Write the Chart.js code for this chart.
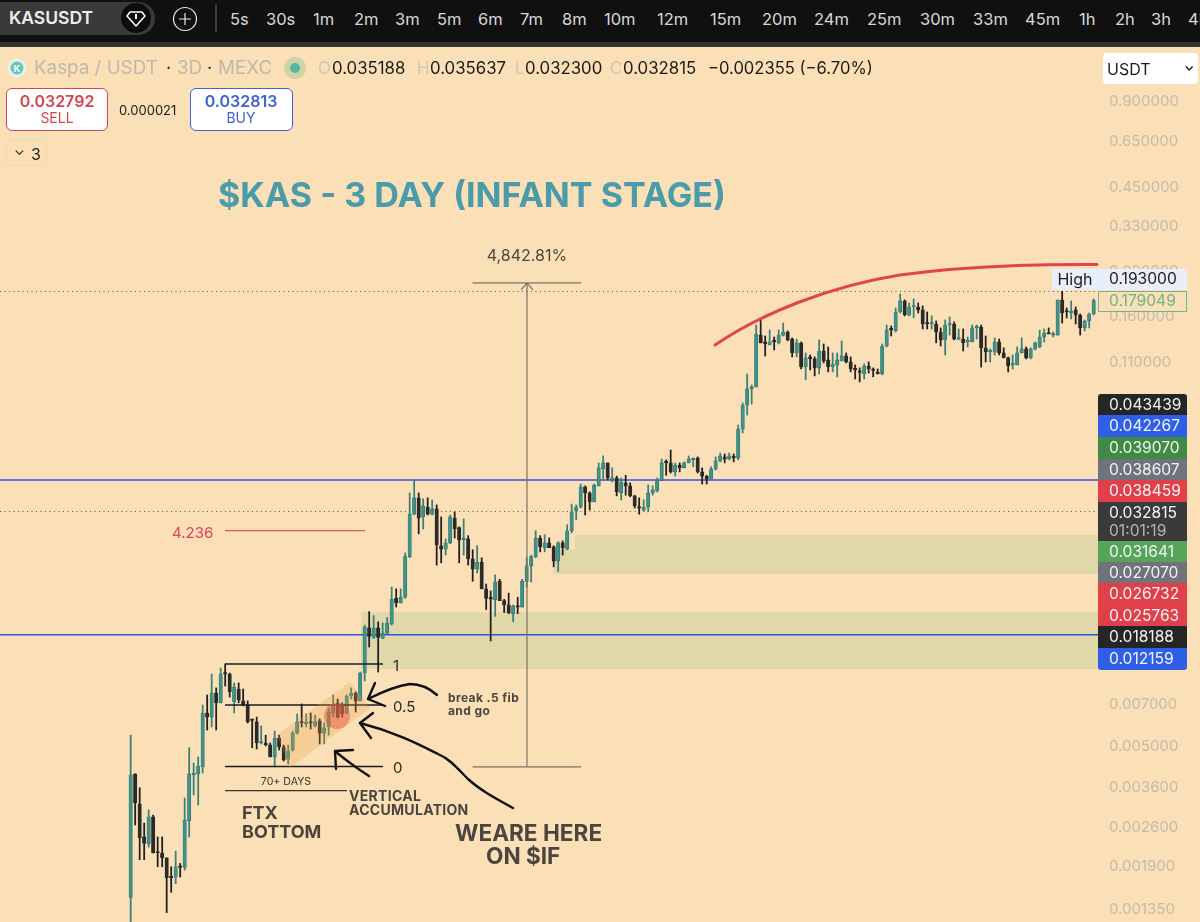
<!DOCTYPE html>
<html><head><meta charset="utf-8"><title>KASUSDT</title>
<script src="https://cdn.jsdelivr.net/npm/chart.js@4"></script>
<style>
html,body{margin:0;padding:0;background:#fbdfb6;overflow:hidden}
#stage{position:relative;width:1200px;height:922px;overflow:hidden;background:#fbdfb6;font-family:Inter,"Noto Sans",sans-serif}
canvas{position:absolute;left:0;top:0}
#bar{position:absolute;left:0;top:0;width:1200px;height:42px;background:#101010;border-bottom:5px solid #333}
svg{position:absolute;left:0;top:0}
.t{position:absolute;white-space:pre;line-height:1}
.box{position:absolute;box-sizing:border-box}
</style></head><body>
<div id="stage">
<canvas id="c" width="1200" height="922"></canvas>
<div id="bar"></div>
<svg id="ink" width="1200" height="922" viewBox="0 0 1200 922" fill="none">
 <polygon points="277,735 350,682 370,708 290,768" fill="rgb(240,160,60)" fill-opacity=".26"/>
 <circle cx="337" cy="716" r="13" fill="rgb(232,90,70)" fill-opacity=".5"/>
 <path d="M715,345 C760,314 830,286 900,275 C960,267 1030,264 1097,264.5" stroke="#df4550" stroke-width="3" stroke-linecap="round"/>
 <g stroke="#111" stroke-width="2.4" stroke-linecap="round" stroke-linejoin="round">
  <path d="M437,695 C428,687 420,684 410,684 C395,686 382,692 368,699"/>
  <path d="M375,683 L368,699 L385,706"/>
  <path d="M513,808 C495,798 480,790 468,779 C458,769 450,759 438,754 C420,745 395,732 360,723"/>
  <path d="M373,713 L360,723 L371,738"/>
  <path d="M369,776 C358,769 347,761 336,752"/>
  <path d="M353,750 L335,751 L336,769"/>
 </g>
 <!-- toolbar icons -->
 <rect x="-20" y="2" width="175" height="33" rx="16.5" fill="#3a3a3a"/>
 <circle cx="136" cy="18" r="15" fill="#0c0c0c"/>
 <path d="M130,12 H142 L145,16 L136,26 L127,16 Z" stroke="#fff" stroke-width="1.5" stroke-linejoin="round"/>
 <path d="M136,14 V19" stroke="#fff" stroke-width="2"/>
 <circle cx="185" cy="19" r="11.5" stroke="#e8e8e8" stroke-width="1.2"/>
 <path d="M179,19 H191 M185,13 V25" stroke="#e8e8e8" stroke-width="1.2"/>
 <path d="M216,4 V32" stroke="#555" stroke-width="1.3"/>
 <circle cx="17" cy="68" r="9.5" fill="#e6f2ee"/><circle cx="17" cy="68" r="6.5" fill="#6cc4b8"/>
 <circle cx="295" cy="68" r="11" fill="#cfd3a8"/><circle cx="295" cy="68" r="5" fill="#56b8a0"/>
</svg>
<div id="ui"></div>
</div>
<script>
/* ---- chart values ---- */
const opens=[.00147,.00397,.00312,.00239,.00226,.00281,.00212,.00210,.00202,.00173,
.00173,.00188,.00187,.00272,.00394,.00397,.00420,.00648,.00627,.00761,
.00703,.00894,.00887,.00708,.00786,.00714,.00691,.00613,.00603,.00509,
.00509,.00501,.00455,.00530,.00493,.00447,.00481,.00551,.00603,.00593,
.00603,.00584,.00608,.00551,.00579,.00648,.00703,.00691,.00648,.00743,
.00761,.00714,.00894,.01285,.0119,.01285,.0118,.0123,.01326,.0163,
.0157,.01645,.0228,.0321,.0366,.0314,.0340,.0321,.0335,.0249,
.0242,.0255,.0311,.0288,.0261,.0263,.0224,.0206,.0218,.0176,
.01645,.0161,.0187,.0160,.01546,.01442,.01534,.0152,.0187,.0212,
.0228,.0265,.0245,.0255,.0247,.0220,.0255,.0242,.0281,.0329,
.0340,.0400,.0381,.0354,.0403,.0462,.0485,.0423,.0430,.0381,
.0413,.0403,.0372,.0340,.0332,.0340,.0381,.0387,.0420,.0489,
.0485,.0451,.0477,.0466,.0485,.0497,.0505,.0451,.0436,.0426,
.0462,.0493,.0509,.0500,.0509,.0505,.0637,.0773,.0880,.0894,
.1357,.1284,.1253,.1295,.1274,.1357,.1391,.1314,.1175,.1274,
.1049,.1138,.1120,.1042,.1194,.1111,.1049,.1067,.1102,.1147,
.1093,.1033,.1009,.0992,.1058,.1025,.1009,.0992,.1243,.1425,
.1403,.1634,.1786,.1595,.1701,.1701,.1661,.1495,.1483,.1483,
.1391,.1305,.1471,.1483,.1314,.1314,.1284,.1284,.1437,.1448,
.1224,.1185,.1185,.1284,.1175,.1129,.1067,.1067,.1175,.1214,
.1129,.1214,.1233,.1336,.1380,.1357,.1357,.1800,.1647,.1621,
.1661,.1595,.1437,.1520,.1608];
const highs=[.00542,.00397,.00355,.00267,.00297,.00285,.00239,.00239,.00202,.00188,
.00213,.00193,.00327,.00490,.00433,.00455,.00691,.00749,.00887,.00793,
.00931,.00961,.00894,.00825,.00825,.00786,.00714,.00618,.00627,.00584,
.00542,.00509,.00560,.00542,.00501,.00501,.00560,.00643,.00697,.00643,
.00648,.00637,.00618,.00598,.00675,.00749,.00725,.00703,.00749,.00793,
.00768,.00901,.01315,.01466,.0142,.0135,.01337,.01398,.01786,.0176,
.0176,.0235,.0381,.0423,.0381,.0363,.0366,.0360,.0346,.0314,
.0263,.0319,.0327,.0290,.0309,.0270,.0241,.0249,.0226,.0183,
.0173,.0197,.0190,.01618,.0170,.01546,.01645,.0190,.0226,.0231,
.0281,.0270,.0272,.0265,.0249,.0257,.0259,.0295,.0348,.0346,
.0409,.0403,.0384,.0409,.0485,.0513,.0485,.0466,.0436,.0430,
.0439,.0413,.0374,.0366,.0360,.0406,.0403,.0430,.0500,.0497,
.0538,.0485,.0485,.0489,.0513,.0505,.0509,.0466,.0439,.0470,
.0509,.0525,.0521,.0525,.0521,.0658,.0786,.0992,.0908,.1471,
.1545,.1347,.1414,.1336,.1414,.1495,.1403,.1326,.1314,.1284,
.1175,.1156,.1138,.1305,.1263,.1233,.1175,.1175,.1295,.1175,
.1138,.1067,.1042,.1075,.1093,.1042,.1033,.1263,.1471,.1460,
.1688,.1889,.1800,.1757,.1814,.1757,.1715,.1634,.1583,.1520,
.1437,.1532,.1570,.1508,.1425,.1425,.1336,.1471,.1471,.1471,
.1347,.1214,.1326,.1314,.1224,.1138,.1156,.1233,.1326,.1233,
.1224,.1284,.1414,.1425,.1437,.1391,.1800,.1930,.1688,.1786,
.1701,.1608,.1532,.1621,.1814];
const lows=[.00118,.00263,.00199,.00199,.00220,.00210,.00188,.00188,.00130,.00153,
.00164,.00173,.00183,.00239,.00335,.00309,.00400,.00565,.00579,.00565,
.00703,.00805,.00737,.00648,.00703,.00686,.00598,.00490,.00485,.00505,
.00497,.00455,.00420,.00481,.00440,.00430,.00477,.00547,.00579,.00579,
.00570,.00579,.00505,.00505,.00542,.00627,.00622,.00627,.00643,.00725,
.00653,.00714,.00838,.01102,.0118,.00901,.0118,.0123,.01315,.0152,
.0157,.0163,.0226,.0319,.0274,.0285,.0319,.0319,.0213,.0217,
.0231,.0253,.0265,.0217,.0231,.0213,.0187,.0200,.0176,.0149,
.01157,.0141,.0160,.01454,.01442,.0135,.01442,.0152,.01786,.0186,
.0226,.0237,.0237,.0245,.0210,.0202,.0231,.0241,.0276,.0307,
.0337,.0319,.0332,.0354,.0403,.0423,.0423,.0416,.0372,.0360,
.0374,.0369,.0337,.0321,.0329,.0327,.0374,.0384,.0420,.0439,
.0447,.0436,.0451,.0466,.0485,.0470,.0447,.0409,.0409,.0426,
.0458,.0489,.0485,.0497,.0489,.0497,.0617,.0713,.0779,.0894,
.1274,.1147,.1253,.1204,.1263,.1347,.1295,.1138,.1138,.1033,
.0946,.1025,.0977,.0992,.1084,.1009,.1009,.0969,.1102,.1084,
.1009,.0953,.0931,.0953,.1000,.0969,.0992,.0985,.1233,.1347,
.1391,.1621,.1583,.1583,.1558,.1621,.1425,.1425,.1425,.1274,
.1243,.1156,.1357,.1305,.1305,.1194,.1233,.1284,.1314,.1049,
.1093,.1093,.1156,.1156,.1129,.1009,.1033,.1067,.1175,.1120,
.1120,.1204,.1224,.1284,.1369,.1336,.1357,.1495,.1558,.1545,
.1483,.1357,.1403,.1437,.1595];
const closes=[.00394,.00314,.00237,.00227,.00281,.00210,.00210,.00202,.00172,.00172,
.00188,.00187,.00274,.00397,.00397,.00423,.00648,.00627,.00761,.00703,
.00887,.00887,.00768,.00799,.00720,.00691,.00603,.00610,.00509,.00514,
.00501,.00455,.00530,.00493,.00444,.00477,.00551,.00603,.00598,.00603,
.00598,.00603,.00551,.00575,.00653,.00691,.00627,.00643,.00743,.00761,
.00714,.00894,.01295,.01200,.01285,.0119,.0123,.01337,.01618,.0157,
.01645,.0228,.0321,.0366,.0311,.0343,.0321,.0335,.0251,.0242,
.0255,.0314,.0285,.0261,.0263,.0224,.0206,.0218,.0176,.0163,
.01618,.0186,.0160,.01546,.01454,.01534,.0152,.0187,.0212,.0228,
.0265,.0247,.0255,.0245,.0220,.0255,.0245,.0281,.0327,.0340,
.0400,.0381,.0354,.0406,.0466,.0485,.0430,.0430,.0384,.0416,
.0403,.0372,.0343,.0337,.0340,.0381,.0390,.0420,.0485,.0485,
.0451,.0477,.0466,.0485,.0500,.0500,.0451,.0436,.0426,.0462,
.0493,.0513,.0500,.0513,.0505,.0637,.0773,.0880,.0894,.1369,
.1274,.1263,.1284,.1284,.1357,.1391,.1305,.1175,.1274,.1049,
.1129,.1120,.1042,.1194,.1102,.1049,.1075,.1111,.1147,.1093,
.1033,.1025,.1005,.1058,.1033,.1020,.0992,.1243,.1414,.1414,
.1634,.1786,.1595,.1701,.1715,.1661,.1483,.1483,.1495,.1391,
.1305,.1471,.1483,.1314,.1326,.1274,.1295,.1437,.1448,.1224,
.1185,.1194,.1284,.1175,.1129,.1058,.1075,.1175,.1214,.1129,
.1214,.1274,.1336,.1380,.1369,.1369,.1800,.1621,.1634,.1647,
.1595,.1437,.1520,.1608,.17905];
const axisTicks=[.9,.65,.45,.33,.23,.16,.11,.007,.005,.0036,.0026,.0019,.00135];
const blueLevels=[.042267,.012159];
const dottedLevels=[.193,.032815];
const fibLevels=[.00961,.00691,.00421];
const fibLabels=["1","0.5","0"];
const daysLevel=.00347;
const redLevel=.0281;
const measureTop=.2064, measureBottom=.0042;
const zones=[[98.73,.0272,.01984],[93.84,.0241,.01984],[51.18,.0146,.00924]];
const tags=[["0.043439","#262626"],["0.042267","#2f5fe6"],["0.039070","#3f8a45"],["0.038607","#70737c"],["0.038459","#e0404a"],
            ["0.032815\n01:01:19","#3a3a3a"],["0.031641","#56a45a"],["0.027070","#70737c"],["0.026732","#e0404a"],["0.025763","#e0404a"],["0.018188","#262626"],["0.012159","#2f5fe6"]];
const timeframes=["5s","30s","1m","2m","3m","5m","6m","7m","8m","10m","12m","15m","20m","24m","25m","30m","33m","45m","1h","2h","3h","4h"];

const TEAL="#3d9389",TEALEDGE="#2c6f69",BLACK="#2a2a2a";
const isUp=opens.map((o,i)=>closes[i]>=o);
const overlay={id:"overlay",
 beforeDatasetsDraw(ch){
  const g=ch.ctx,x=ch.scales.x,y=ch.scales.y,a=ch.chartArea;
  g.save();
  g.fillStyle="#e0d8a9";
  zones.forEach(z=>{const t=y.getPixelForValue(z[1]),b=y.getPixelForValue(z[2]),l=x.getPixelForValue(z[0]);g.fillRect(l,t,a.right-l,b-t);});
  g.strokeStyle="#2f55e0";g.lineWidth=1.6;
  blueLevels.forEach(v=>{const p=y.getPixelForValue(v);g.beginPath();g.moveTo(a.left,p);g.lineTo(a.right,p);g.stroke();});
  g.strokeStyle="#5a5346";g.lineWidth=1;g.setLineDash([1,3.5]);
  dottedLevels.forEach(v=>{const p=Math.round(y.getPixelForValue(v))+.5;g.beginPath();g.moveTo(a.left,p);g.lineTo(a.right,p);g.stroke();});
  g.setLineDash([]);
  g.restore();
 },
 afterDatasetsDraw(ch){
  const g=ch.ctx,x=ch.scales.x,y=ch.scales.y;
  const X=v=>x.getPixelForValue(v),Y=v=>y.getPixelForValue(v);
  g.save();
  g.strokeStyle="#1c1c1c";g.lineWidth=1.4;
  fibLevels.forEach(v=>{g.beginPath();g.moveTo(X(20.96),Y(v));g.lineTo(X(56.07),Y(v));g.stroke();});
  g.strokeStyle="#3a3328";g.lineWidth=1.3;
  g.beginPath();g.moveTo(X(20.96),Y(daysLevel));g.lineTo(X(48.07),Y(daysLevel));g.stroke();
  g.strokeStyle="#e0566a";g.lineWidth=1.2;
  g.beginPath();g.moveTo(X(20.96),Y(redLevel));g.lineTo(X(52.07),Y(redLevel));g.stroke();
  g.strokeStyle="#7b7462";g.lineWidth=1.2;
  g.beginPath();
  g.moveTo(X(75.96),Y(measureTop));g.lineTo(X(100.07),Y(measureTop));
  g.moveTo(X(75.96),Y(measureBottom));g.lineTo(X(100.07),Y(measureBottom));
  g.moveTo(X(88.07),Y(measureTop));g.lineTo(X(88.07),Y(measureBottom));
  g.moveTo(X(88.07)-6,Y(measureTop)+7);g.lineTo(X(88.07),Y(measureTop));g.lineTo(X(88.07)+6,Y(measureTop)+7);
  g.stroke();
  g.restore();
 }};
new Chart(document.getElementById("c"),{
 type:"bar",
 data:{datasets:[
  {label:"body",order:1,grouped:false,barThickness:3.4,minBarLength:1.5,
   data:opens.map((o,i)=>({x:i,y:[o,closes[i]]})),
   backgroundColor:isUp.map(u=>u?TEAL:BLACK),borderColor:isUp.map(u=>u?TEALEDGE:BLACK),borderWidth:.6,borderSkipped:false},
  {label:"wick",order:2,grouped:false,barThickness:1.1,
   data:lows.map((l,i)=>({x:i,y:[l,highs[i]]})),
   backgroundColor:isUp.map(u=>u?"#3a7f78":"#1e1e1e"),borderWidth:0}
 ]},
 options:{responsive:false,animation:false,events:[],
  layout:{padding:0,autoPadding:false},
  plugins:{legend:{display:false},tooltip:{enabled:false}},
  scales:{
   x:{type:"linear",display:false,offset:false,min:-29.04,max:214.96},
   y:{type:"logarithmic",position:"right",min:.001205,max:2.0125,bounds:"data",
      afterBuildTicks:s=>{s.ticks=axisTicks.map(v=>({value:v}));},
      afterFit:s=>{s.width=102;s.paddingTop=0;s.paddingBottom=0;},
      grid:{display:false,drawTicks:false},border:{display:false},
      ticks:{autoSkip:false,maxRotation:0,padding:11,labelOffset:1.5,color:"#c2bbad",font:{family:"Inter",size:15},callback:v=>Number(v).toFixed(6)}}
  }},
 plugins:[overlay]
});

/* ---- interface text ---- */
const ui=document.getElementById("ui");
function txt(s,x,y,size,color,weight,align,extra){
 const e=document.createElement("div");e.className="t";e.textContent=s;
 e.style.cssText+=`left:${x}px;top:${y-size/2}px;font-size:${size}px;color:${color};font-weight:${weight||400};`+
  (align==="c"?"transform:translateX(-50%);":align==="r"?"transform:translateX(-100%);":"")+(extra||"");
 ui.appendChild(e);return e;}
function box(x,y,w,h,css){const e=document.createElement("div");e.className="box";
 e.style.cssText+=`left:${x}px;top:${y}px;width:${w}px;height:${h}px;`+css;ui.appendChild(e);return e;}

txt("KASUSDT",9,18,17.5,"#eeeeee",600);
const tfX=[230,266,313,354,395,437,478,520,562,604,657,710,762,814,867,920,973,1025,1079,1115,1151,1188];
timeframes.forEach((s,i)=>txt(s,tfX[i],19,16.5,"#d8d8d8",400));
txt("K",13.8,68,9,"#fff",700);
const gr="#bfb9ac",ink="#1c1a16";
txt("Kaspa / USDT",34,68,18.8,gr);txt("·",166,68,18,ink);txt("3D",177,68,18.8,gr);txt("·",207,68,18,ink);txt("MEXC",218,68,18.8,gr);
[["O","0.035188",318,332],["H","0.035637",417,430],["L","0.032300",515,525],["C","0.032815",610,623]].forEach(r=>{
 txt(r[0],r[2],68,16.8,"#cfc8ba");txt(r[1],r[3],68,16.8,ink);});
txt("−0.002355 (−6.70%)",708,68,16.6,ink);

box(6,88,102,43,"background:#fff;border:1.3px solid #d9434e;border-radius:6px;");
txt("0.032792",57,101,16,"#d9434e",600,"c");txt("SELL",57,118,14,"#d9434e",400,"c");
txt("0.000021",119,110,13,ink);
box(190,88,103,43,"background:#fff;border:1.3px solid #3f63d6;border-radius:6px;");
txt("0.032813",241,101,16,"#3f63d6",600,"c");txt("BUY",241,118,14,"#3f63d6",400,"c");
box(6,140,41,26,"border:1px solid #efd9b6;border-radius:3px;");
txt("⌄",14,150,14,ink);txt("3",31,154,16,ink);
box(1103,53,95,31,"background:#fff;border-radius:4px;");
txt("USDT",1107,69,16,"#1c1c1c");txt("⌄",1184,66,13,"#1c1c1c",700);

txt("$KAS - 3 DAY (INFANT STAGE)",218,195,34.1,"#4a9cab",700);
txt("4,842.81%",527,255,16,"#4c463a",400,"c");
txt("4.236",172,532,15,"#e0415c");
fibLabels.forEach((s,i)=>txt(s,393,[665,706,767][i],15,"#2a2a2a"));
txt("70+ DAYS",286,782,10.6,"#3a3328",400,"c");
const bt="#4a453e";
txt("FTX",242,813,18,bt,700);txt("BOTTOM",242,832,18,bt,700);
txt("VERTICAL",349,796,14,bt,700,"l","letter-spacing:.3px;");txt("ACCUMULATION",349,810,14,bt,700,"l","letter-spacing:.3px;");
txt("break .5 fib",448,698,12,bt,700,"l","letter-spacing:.4px;");txt("and go",448,711,12,bt,700,"l","letter-spacing:.4px;");
txt("WEARE HERE",455,833,22.6,bt,700);txt("ON $IF",486,856,22.6,bt,700);

box(1052,269,46,21,"background:#e8eefa;");txt("High",1075,279,16,"#222",400,"c");
box(1098,269,89,21,"background:#e8eefa;");txt("0.193000",1109,279,15.6,"#222");
box(1098,291,89,21,"background:#fbdfb6;border:1.2px solid #6fb48c;");txt("0.179049",1109,301,15.6,"#6fb48c");

let ty=394;const hs=[21,22,22,21,22,39,21,21,22,21,22,22];
tags.forEach((t,i)=>{
 box(1098,ty,89,hs[i],`background:${t[1]};`+(i===0?"border-radius:3px 3px 0 0;":i===tags.length-1?"border-radius:0 0 3px 3px;":""));
 const rows=t[0].split("\n");
 txt(rows[0],1109,ty+10.5,15.6,"#f2f2f2");
 if(rows[1])txt(rows[1],1109,ty+28.5,15.6,"#b5b5b5");
 ty+=hs[i];
});
</script>
</body></html>
